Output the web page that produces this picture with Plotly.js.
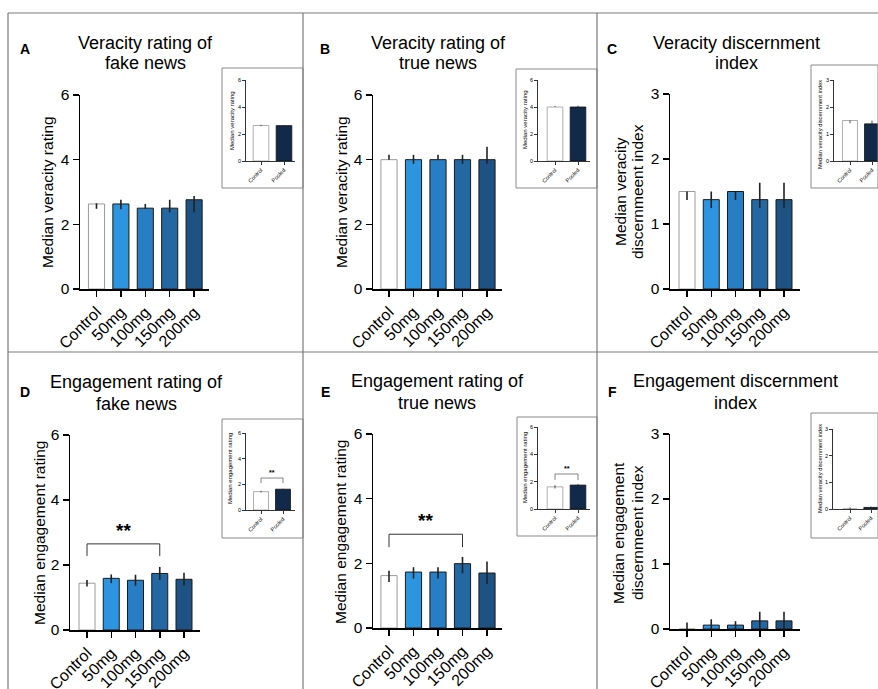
<!DOCTYPE html>
<html><head><meta charset="utf-8">
<script src="https://cdn.plot.ly/plotly-3.0.1.min.js"></script>
<style>html,body{margin:0;padding:0;background:#fff}</style>
</head><body><div id="chart" style="width:878px;height:689px"></div>
<script>
// ---------------- DATA ----------------
const doseCategories = ['Control', '50mg', '100mg', '150mg', '200mg'];
const insetCategories = ['Control', 'Pooled'];

// A: Veracity rating of fake news
const aValues = [2.63, 2.63, 2.5, 2.5, 2.76];
const aPlus   = [0.02, 0.13, 0.13, 0.26, 0.12];
const aMinus  = [0.15, 0.16, 0.02, 0.13, 0.39];
const aInsetValues = [2.63, 2.62];
const aInsetPlus   = [0.05, 0.03];
const aInsetMinus  = [0.05, 0.03];

// B: Veracity rating of true news
const bValues = [4, 4, 4, 4, 4];
const bPlus   = [0.15, 0.15, 0.15, 0.15, 0.4];
const bMinus  = [0, 0.13, 0, 0.13, 0.13];
const bInsetValues = [4, 4];
const bInsetPlus   = [0.08, 0.1];
const bInsetMinus  = [0, 0];

// C: Veracity discernment index
const cValues = [1.5, 1.375, 1.5, 1.375, 1.375];
const cPlus   = [0, 0.125, 0, 0.26, 0.26];
const cMinus  = [0.13, 0.13, 0.13, 0.13, 0.13];
const cInsetValues = [1.5, 1.375];
const cInsetPlus   = [0, 0.12];
const cInsetMinus  = [0.1, 0];

// D: Engagement rating of fake news
const dValues = [1.44, 1.59, 1.53, 1.74, 1.56];
const dPlus   = [0.1, 0.12, 0.17, 0.2, 0.2];
const dMinus  = [0.1, 0.15, 0.17, 0.2, 0.2];
const dInsetValues = [1.43, 1.62];
const dInsetPlus   = [0.06, 0.04];
const dInsetMinus  = [0.06, 0.04];
const dBracketX = ['Control', 'Control', '150mg', '150mg'];
const dBracketY = [2.28, 2.65, 2.65, 2.28];
const dInsetBracketX = ['Control', 'Control', 'Pooled', 'Pooled'];
const dInsetBracketY = [2.1, 2.49, 2.49, 2.1];

// E: Engagement rating of true news
const eValues = [1.62, 1.73, 1.73, 1.99, 1.7];
const ePlus   = [0.15, 0.15, 0.15, 0.21, 0.36];
const eMinus  = [0.2, 0.2, 0.2, 0.3, 0.34];
const eInsetValues = [1.62, 1.75];
const eInsetPlus   = [0.12, 0.08];
const eInsetMinus  = [0.12, 0.08];
const eBracketX = ['Control', 'Control', '150mg', '150mg'];
const eBracketY = [2.5, 2.9, 2.9, 2.5];
const eInsetBracketX = ['Control', 'Control', 'Pooled', 'Pooled'];
const eInsetBracketY = [2.12, 2.56, 2.56, 2.12];

// F: Engagement discernment index
const fValues = [0, 0.06, 0.06, 0.125, 0.125];
const fPlus   = [0.1, 0.09, 0.06, 0.14, 0.14];
const fMinus  = [0, 0.06, 0.06, 0.12, 0.12];
const fInsetValues = [0, 0.06];
const fInsetPlus   = [0.06, 0.03];
const fInsetMinus  = [0, 0.03];

const doseColors = ['#ffffff', '#2d95e0', '#287ec4', '#2368a3', '#1d5283'];
const doseLines  = ['#9a9a9a', '#1a1a1a', '#1a1a1a', '#1a1a1a', '#1a1a1a'];
const insetColors = ['#ffffff', '#12294a'];
const insetLines  = ['#9a9a9a', '#111111'];

// ---------------- LAYOUT HELPERS ----------------
const W = 878, H = 689;
const FONT = 'Liberation Sans, Arial, Helvetica, sans-serif';
const data = [], annotations = [], shapes = [];
const layout = {
  width: W, height: H, margin: {l: 0, r: 0, t: 0, b: 0},
  paper_bgcolor: '#fff', plot_bgcolor: 'rgba(0,0,0,0)',
  showlegend: false, font: {family: FONT, color: '#000'}
};
function xdom(p0, p1) { return [p0 / W, Math.min(1, p1 / W)]; }
function ydom(top, bot) { return [1 - bot / H, 1 - top / H]; }

function addBars(idx, cats, vals, plus, minus, colors, lines, g, o) {
  const sfx = idx === 1 ? '' : String(idx);
  const xa = 'x' + sfx, ya = 'y' + sfx;
  data.push({
    type: 'bar', x: cats, y: vals, xaxis: xa, yaxis: ya, width: o.bw,
    marker: {color: colors, line: {color: lines, width: o.lw}},
    error_y: {type: 'data', symmetric: false, array: plus, arrayminus: minus,
      color: '#222', thickness: o.et, width: 0},
    hoverinfo: 'x+y'
  });
  const xEnd = Math.min(g.x1, W);
  layout['xaxis' + sfx] = {
    domain: xdom(g.x0, xEnd), type: 'category',
    range: [(g.x0 - g.c0) / g.dx, (xEnd - g.c0) / g.dx],
    anchor: ya, showline: true, linecolor: '#000', linewidth: o.al,
    ticks: 'outside', ticklen: o.tl, tickwidth: o.al, tickcolor: '#000',
    tickangle: -45, tickfont: {size: o.xf, family: FONT, color: '#000'},
    showgrid: false, zeroline: false, fixedrange: true
  };
  layout['yaxis' + sfx] = {
    domain: ydom(g.yTop, g.yBot), range: [0, g.ymax], tick0: 0, dtick: g.dtick,
    anchor: xa, showline: true, linecolor: '#000', linewidth: o.al,
    ticks: 'outside', ticklen: o.tl, tickwidth: o.al, tickcolor: '#000',
    tickfont: {size: o.yf, family: FONT, color: '#000'},
    showgrid: false, zeroline: false, fixedrange: true
  };
  return {xa, ya};
}

const mainOpt  = {bw: 0.66, lw: 1, et: 1.6, al: 1.5, tl: 6, xf: 16, yf: 15.5};
const insetOpt = {bw: 0.68, lw: 0.8, et: 0.8, al: 0.8, tl: 3, xf: 5.5, yf: 5.5};

function ann(x, y, text, size, extra) {
  annotations.push(Object.assign({xref: 'paper', yref: 'paper', x: x / W, y: 1 - y / H,
    text: text, showarrow: false, xanchor: 'center', yanchor: 'middle',
    font: {size: size, family: FONT, color: '#000'}}, extra || {}));
}
function box(x0, y0, x1, y1, color, w) {
  shapes.push({type: 'rect', xref: 'paper', yref: 'paper', x0: x0 / W, x1: Math.min(x1, W) / W,
    y0: 1 - y1 / H, y1: 1 - y0 / H, line: {color: color, width: w}, fillcolor: 'rgba(0,0,0,0)'});
}
function hline(x0, x1, y, color, w) {
  shapes.push({type: 'line', xref: 'paper', yref: 'paper', x0: x0 / W, x1: x1 / W,
    y0: 1 - y / H, y1: 1 - y / H, line: {color: color, width: w}});
}
function vline(x, y0, y1, color, w) {
  shapes.push({type: 'line', xref: 'paper', yref: 'paper', x0: x / W, x1: x / W,
    y0: 1 - y1 / H, y1: 1 - y0 / H, line: {color: color, width: w}});
}
function bracket(ax, bx, by, w) {
  data.push({type: 'scatter', mode: 'lines', x: bx, y: by, xaxis: ax.xa, yaxis: ax.ya,
    line: {color: '#333', width: w}, hoverinfo: 'skip', cliponaxis: false});
}

// ---------------- PANELS ----------------
// A
let m = addBars(1, doseCategories, aValues, aPlus, aMinus, doseColors, doseLines,
  {x0: 80, x1: 209, c0: 96.5, dx: 24.4, yTop: 95, yBot: 289, ymax: 6, dtick: 2}, mainOpt);
addBars(7, insetCategories, aInsetValues, aInsetPlus, aInsetMinus, insetColors, insetLines,
  {x0: 246, x1: 295, c0: 261, dx: 23, yTop: 80, yBot: 161, ymax: 6, dtick: 2}, insetOpt);
// B
addBars(2, doseCategories, bValues, bPlus, bMinus, doseColors, doseLines,
  {x0: 373, x1: 502, c0: 389, dx: 24.5, yTop: 95, yBot: 289, ymax: 6, dtick: 2}, mainOpt);
addBars(8, insetCategories, bInsetValues, bInsetPlus, bInsetMinus, insetColors, insetLines,
  {x0: 538, x1: 590, c0: 555, dx: 23, yTop: 80, yBot: 161, ymax: 6, dtick: 2}, insetOpt);
// C
addBars(3, doseCategories, cValues, cPlus, cMinus, doseColors, doseLines,
  {x0: 670, x1: 800, c0: 687, dx: 24.25, yTop: 94, yBot: 289, ymax: 3, dtick: 1}, mainOpt);
addBars(9, insetCategories, cInsetValues, cInsetPlus, cInsetMinus, insetColors, insetLines,
  {x0: 834, x1: 878, c0: 850, dx: 22, yTop: 80, yBot: 161, ymax: 3, dtick: 1}, insetOpt);
// D
const dAx = addBars(4, doseCategories, dValues, dPlus, dMinus, doseColors, doseLines,
  {x0: 70, x1: 200, c0: 87, dx: 24.25, yTop: 435, yBot: 630, ymax: 6, dtick: 2}, mainOpt);
const dInAx = addBars(10, insetCategories, dInsetValues, dInsetPlus, dInsetMinus, insetColors, insetLines,
  {x0: 246, x1: 295, c0: 261, dx: 22, yTop: 433, yBot: 510, ymax: 6, dtick: 2}, insetOpt);
// E
const eAx = addBars(5, doseCategories, eValues, ePlus, eMinus, doseColors, doseLines,
  {x0: 373, x1: 502, c0: 389, dx: 24.5, yTop: 434, yBot: 628, ymax: 6, dtick: 2}, mainOpt);
const eInAx = addBars(11, insetCategories, eInsetValues, eInsetPlus, eInsetMinus, insetColors, insetLines,
  {x0: 538, x1: 590, c0: 555, dx: 23, yTop: 427, yBot: 509, ymax: 6, dtick: 2}, insetOpt);
// F
addBars(6, doseCategories, fValues, fPlus, fMinus, doseColors, doseLines,
  {x0: 670, x1: 800, c0: 687, dx: 24.25, yTop: 434, yBot: 629, ymax: 3, dtick: 1}, mainOpt);
addBars(12, insetCategories, fInsetValues, fInsetPlus, fInsetMinus, insetColors, insetLines,
  {x0: 833, x1: 878, c0: 850, dx: 21, yTop: 429, yBot: 509, ymax: 3, dtick: 1}, insetOpt);

// significance brackets
bracket(dAx, dBracketX, dBracketY, 1);
bracket(eAx, eBracketX, eBracketY, 1);
bracket(dInAx, dInsetBracketX, dInsetBracketY, 0.6);
bracket(eInAx, eInsetBracketX, eInsetBracketY, 0.6);
annotations.push({xref: 'x4', yref: 'y4', x: 1.5, y: 2.65, yanchor: 'bottom', yshift: 1, showarrow: false,
  text: '<b>**</b>', font: {size: 19, family: FONT, color: '#000'}});
annotations.push({xref: 'x5', yref: 'y5', x: 1.5, y: 2.9, yanchor: 'bottom', yshift: 1, showarrow: false,
  text: '<b>**</b>', font: {size: 19, family: FONT, color: '#000'}});
annotations.push({xref: 'x10', yref: 'y10', x: 0.5, y: 2.49, yanchor: 'bottom', yshift: 0, showarrow: false,
  text: '<b>**</b>', font: {size: 7, family: FONT, color: '#000'}});
annotations.push({xref: 'x11', yref: 'y11', x: 0.5, y: 2.56, yanchor: 'bottom', yshift: 0, showarrow: false,
  text: '<b>**</b>', font: {size: 7, family: FONT, color: '#000'}});

// panel titles
ann(145, 43, 'Veracity rating of', 18); ann(145, 63, 'fake news', 18);
ann(438, 43, 'Veracity rating of', 18); ann(438, 63, 'true news', 18);
ann(736, 43, 'Veracity discernment', 18); ann(736, 63, 'index', 18);
ann(136, 382, 'Engagement rating of', 18); ann(136, 404, 'fake news', 18);
ann(437, 381, 'Engagement rating of', 18); ann(437, 403, 'true news', 18);
ann(735, 381, 'Engagement discernment', 18); ann(735, 403, 'index', 18);

// panel letters
ann(25, 49, '<b>A</b>', 14); ann(325, 49, '<b>B</b>', 14); ann(612, 49, '<b>C</b>', 14);
ann(25, 392, '<b>D</b>', 14); ann(325, 392, '<b>E</b>', 14); ann(612, 392, '<b>F</b>', 14);

// y axis titles (main)
const rot = {textangle: -90};
ann(47, 192, 'Median veracity rating', 15.5, rot);
ann(341, 192, 'Median veracity rating', 15.5, rot);
ann(620, 192, 'Median veracity', 15.5, rot);
ann(637, 192, 'discernmeent index', 15.5, rot);
ann(39, 533, 'Median engagement rating', 15.5, rot);
ann(340, 532, 'Median engagement rating', 15.5, rot);
ann(618, 533, 'Median engagement', 15.5, rot);
ann(637, 533, 'discernmeent index', 15.5, rot);

// y axis titles (insets)
ann(232, 121, 'Median veracity rating', 6, rot);
ann(525, 120, 'Median veracity rating', 6, rot);
ann(820, 125, 'Median veracity discernment index', 5.8, rot);
ann(230, 469, 'Median engagement rating', 6, rot);
ann(525, 468, 'Median engagement rating', 6, rot);
ann(820, 469, 'Median veracity discernment index', 5.8, rot);

// inset boxes
box(222, 68, 303, 188, '#8a8a8a', 1);
box(516, 69, 597, 188, '#8a8a8a', 1);
box(811, 65, 880, 188, '#8a8a8a', 1);
box(222, 419, 303, 538, '#8a8a8a', 1);
box(517, 417, 597, 536, '#8a8a8a', 1);
box(811, 413, 880, 538, '#8a8a8a', 1);

// panel frame lines
hline(8, 878, 13, '#7a7a7a', 1.2);
hline(8, 878, 352, '#7a7a7a', 1.2);
vline(8, 13, 689, '#7a7a7a', 1.2);
vline(303, 13, 689, '#7a7a7a', 1.2);
vline(597, 13, 689, '#7a7a7a', 1.2);

layout.annotations = annotations;
layout.shapes = shapes;
Plotly.newPlot('chart', data, layout, {displayModeBar: false, staticPlot: true});
</script>
</body></html>
